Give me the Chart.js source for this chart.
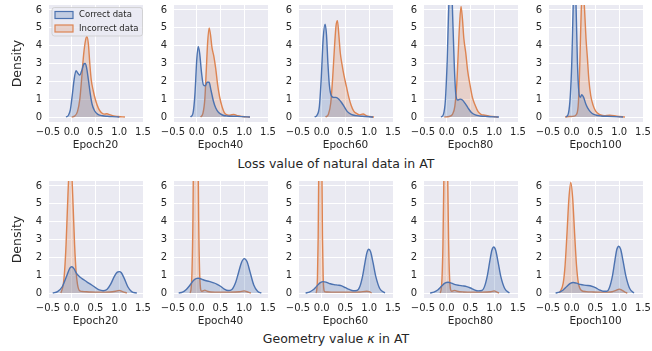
<!DOCTYPE html>
<html>
<head>
<meta charset="utf-8">
<script src="https://cdn.jsdelivr.net/npm/chart.js@4.4.0/dist/chart.umd.min.js"></script>
<style>
  body { margin: 0; background: #fff; font-family: 'DejaVu Sans', sans-serif; }
  #fig { position: relative; width: 652px; height: 351px; overflow: hidden; }
  #fig canvas { position: absolute; }
  .row-title { position: absolute; font-size: 12.5px; color: #262626; transform: translate(-50%, -50%); white-space: nowrap; }
</style>
</head>
<body>
<div id="fig">
  <div class="row-title" style="left:336px; top:163px">Loss value of natural data in AT</div>
  <div class="row-title" style="left:336px; top:338px">Geometry value <i>κ</i> in AT</div>
</div>
<script>
const epochs = ['Epoch20', 'Epoch40', 'Epoch60', 'Epoch80', 'Epoch100'];
const seriesNames = ['Correct data', 'Incorrect data'];
const xTicks = [-0.5, 0, 0.5, 1, 1.5];
const yTicks = [0, 1, 2, 3, 4, 5, 6];

// KDE of the natural-data loss, one list per epoch
const lossCorrectX = [
  [-0.12, -0.07, -0.03, 0.01, 0.05, 0.09, 0.13, 0.17, 0.21, 0.25, 0.28, 0.31, 0.35, 0.39, 0.43, 0.48, 0.55, 0.65, 0.75, 0.85, 1.0],
  [-0.13, -0.08, -0.04, 0.0, 0.03, 0.06, 0.1, 0.14, 0.18, 0.22, 0.26, 0.3, 0.35, 0.4, 0.46, 0.55, 0.65, 0.8, 0.95, 1.12],
  [-0.15, -0.1, -0.05, -0.01, 0.03, 0.07, 0.1, 0.13, 0.16, 0.2, 0.25, 0.3, 0.36, 0.42, 0.48, 0.54, 0.62, 0.72, 0.85, 1.08],
  [-0.12, -0.07, -0.03, 0.01, 0.04, 0.07, 0.1, 0.13, 0.16, 0.19, 0.23, 0.28, 0.33, 0.39, 0.45, 0.52, 0.6, 0.7, 0.85, 1.1],
  [-0.12, -0.07, -0.03, 0.0, 0.03, 0.06, 0.09, 0.12, 0.15, 0.18, 0.21, 0.25, 0.3, 0.36, 0.43, 0.52, 0.62, 0.75, 0.9, 1.08]
];
const lossCorrectY = [
  [0, 0.1, 0.4, 1.2, 2.1, 2.6, 2.45, 2.35, 2.6, 2.95, 3.0, 2.8, 2.1, 1.3, 0.7, 0.35, 0.15, 0.07, 0.04, 0.02, 0],
  [0, 0.2, 1.2, 3.2, 3.95, 3.6, 2.5, 1.8, 1.75, 1.95, 1.95, 1.5, 0.9, 0.5, 0.25, 0.1, 0.06, 0.04, 0.02, 0],
  [0, 0.1, 0.6, 2.2, 4.4, 5.2, 4.6, 3.0, 1.8, 1.2, 1.1, 1.1, 1.0, 0.8, 0.55, 0.3, 0.15, 0.08, 0.04, 0],
  [0, 0.15, 0.9, 3.2, 6.0, 7.6, 7.4, 5.2, 2.8, 1.3, 0.95, 1.0, 0.95, 0.75, 0.5, 0.25, 0.12, 0.06, 0.03, 0],
  [0, 0.2, 1.2, 3.0, 6.2, 8.0, 6.3, 3.0, 1.4, 1.1, 1.25, 1.1, 0.7, 0.4, 0.2, 0.1, 0.06, 0.04, 0.02, 0]
];
const lossIncorrectX = [
  [0.0, 0.06, 0.12, 0.17, 0.21, 0.25, 0.29, 0.32, 0.35, 0.38, 0.41, 0.45, 0.5, 0.56, 0.62, 0.68, 0.74, 0.8, 0.88, 0.98, 1.12],
  [0.08, 0.13, 0.17, 0.2, 0.23, 0.26, 0.29, 0.32, 0.36, 0.4, 0.44, 0.48, 0.53, 0.58, 0.64, 0.7, 0.78, 0.86, 0.96, 1.12],
  [0.08, 0.14, 0.19, 0.23, 0.27, 0.3, 0.33, 0.36, 0.39, 0.43, 0.47, 0.52, 0.57, 0.62, 0.67, 0.73, 0.8, 0.87, 0.95, 1.1],
  [-0.05, 0.05, 0.12, 0.17, 0.21, 0.24, 0.27, 0.3, 0.33, 0.36, 0.4, 0.44, 0.49, 0.54, 0.6, 0.66, 0.72, 0.8, 0.9, 1.08],
  [-0.14, -0.05, 0.05, 0.1, 0.14, 0.17, 0.2, 0.235, 0.27, 0.3, 0.33, 0.36, 0.4, 0.45, 0.5, 0.58, 0.68, 0.8, 0.95, 1.12]
];
const lossIncorrectY = [
  [0, 0.05, 0.3, 1.0, 2.2, 3.5, 4.3, 4.5, 4.1, 3.0, 2.1, 1.5, 0.95, 0.5, 0.25, 0.16, 0.18, 0.13, 0.06, 0.03, 0],
  [0, 0.2, 1.0, 2.6, 4.2, 5.0, 4.6, 3.9, 3.4, 2.7, 1.8, 1.15, 0.6, 0.25, 0.12, 0.1, 0.15, 0.07, 0.03, 0],
  [0, 0.15, 0.8, 2.2, 4.0, 5.1, 5.4, 4.6, 3.6, 2.9, 2.3, 1.7, 1.1, 0.65, 0.35, 0.2, 0.12, 0.17, 0.06, 0],
  [0, 0.03, 0.15, 0.6, 1.8, 3.5, 5.2, 6.2, 5.5, 4.4, 3.6, 2.6, 1.8, 1.1, 0.65, 0.3, 0.15, 0.1, 0.05, 0],
  [0, 0.03, 0.05, 0.15, 0.8, 3.0, 6.0, 7.2, 6.0, 4.4, 3.3, 2.1, 1.2, 0.65, 0.35, 0.15, 0.08, 0.1, 0.04, 0]
];

// KDE of the geometry value kappa
const geoCorrectX = [
  [-0.4, -0.3, -0.2, -0.1, -0.04, 0.0, 0.05, 0.1, 0.17, 0.25, 0.33, 0.42, 0.5, 0.58, 0.66, 0.74, 0.82, 0.9, 0.96, 1.0, 1.04, 1.1, 1.18, 1.26, 1.37],
  [-0.38, -0.3, -0.22, -0.14, -0.07, 0.0, 0.04, 0.1, 0.18, 0.26, 0.34, 0.42, 0.5, 0.58, 0.66, 0.74, 0.82, 0.88, 0.94, 1.0, 1.06, 1.12, 1.2, 1.28, 1.36],
  [-0.34, -0.26, -0.18, -0.1, -0.03, 0.03, 0.1, 0.18, 0.26, 0.34, 0.42, 0.5, 0.58, 0.66, 0.74, 0.8, 0.86, 0.91, 0.95, 0.99, 1.03, 1.08, 1.14, 1.22, 1.33],
  [-0.35, -0.27, -0.19, -0.11, -0.04, 0.03, 0.1, 0.18, 0.26, 0.34, 0.42, 0.5, 0.58, 0.66, 0.74, 0.8, 0.86, 0.91, 0.95, 0.99, 1.03, 1.08, 1.14, 1.22, 1.32],
  [-0.34, -0.26, -0.18, -0.1, -0.03, 0.03, 0.1, 0.18, 0.26, 0.34, 0.42, 0.5, 0.58, 0.66, 0.74, 0.8, 0.86, 0.91, 0.95, 0.99, 1.03, 1.08, 1.14, 1.22, 1.31]
];
const geoCorrectY = [
  [0, 0.08, 0.35, 1.0, 1.4, 1.47, 1.35, 1.1, 0.9, 0.75, 0.6, 0.45, 0.3, 0.17, 0.13, 0.2, 0.5, 0.95, 1.17, 1.2, 1.15, 0.85, 0.35, 0.08, 0],
  [0, 0.05, 0.2, 0.45, 0.7, 0.82, 0.83, 0.78, 0.7, 0.65, 0.58, 0.5, 0.38, 0.22, 0.14, 0.2, 0.6, 1.15, 1.7, 1.93, 1.75, 1.2, 0.45, 0.1, 0],
  [0, 0.05, 0.18, 0.4, 0.58, 0.64, 0.6, 0.52, 0.47, 0.44, 0.4, 0.3, 0.2, 0.13, 0.14, 0.35, 0.95, 1.7, 2.25, 2.45, 2.3, 1.7, 0.9, 0.25, 0],
  [0, 0.05, 0.17, 0.38, 0.55, 0.6, 0.55, 0.47, 0.43, 0.4, 0.36, 0.28, 0.18, 0.12, 0.14, 0.4, 1.05, 1.85, 2.4, 2.58, 2.4, 1.75, 0.9, 0.25, 0],
  [0, 0.05, 0.17, 0.38, 0.54, 0.59, 0.55, 0.48, 0.44, 0.42, 0.38, 0.3, 0.18, 0.1, 0.1, 0.35, 1.0, 1.85, 2.45, 2.62, 2.45, 1.8, 0.95, 0.25, 0]
];
const geoIncorrectX = [
  [-0.23, -0.18, -0.15, -0.12, -0.09, -0.06, -0.03, 0.0, 0.03, 0.06, 0.09, 0.12, 0.17, 0.25, 0.4, 0.6, 0.8, 0.92, 1.0, 1.07, 1.16],
  [-0.14, -0.12, -0.1, -0.08, -0.06, -0.04, -0.02, 0.0, 0.02, 0.04, 0.06, 0.08, 0.1, 0.13, 0.17, 0.22, 0.3, 0.5, 0.7, 0.9, 1.0, 1.06, 1.14],
  [-0.12, -0.105, -0.09, -0.075, -0.06, -0.045, -0.03, -0.015, 0.0, 0.015, 0.03, 0.045, 0.06, 0.1, 0.2, 0.4, 0.6, 0.8, 0.95, 1.0, 1.05],
  [-0.14, -0.12, -0.1, -0.08, -0.06, -0.04, -0.02, 0.0, 0.02, 0.04, 0.06, 0.08, 0.1, 0.13, 0.17, 0.22, 0.35, 0.55, 0.75, 0.92, 1.0, 1.05, 1.1],
  [-0.26, -0.18, -0.14, -0.1, -0.06, -0.02, 0.02, 0.06, 0.1, 0.14, 0.2, 0.3, 0.45, 0.6, 0.75, 0.85, 0.93, 1.0, 1.06, 1.12, 1.17]
];
const geoIncorrectY = [
  [0, 0.45, 1.25, 2.7, 4.8, 6.7, 7.5, 6.7, 4.8, 2.7, 1.25, 0.5, 0.12, 0.08, 0.06, 0.05, 0.06, 0.1, 0.15, 0.08, 0],
  [0, 0.22, 1.2, 4.2, 10.6, 18.3, 22, 18.3, 10.6, 4.2, 1.2, 0.25, 0.1, 0.12, 0.16, 0.1, 0.06, 0.05, 0.05, 0.07, 0.12, 0.07, 0],
  [0, 0.18, 0.9, 3.2, 7.9, 13.6, 16.3, 13.6, 7.9, 3.2, 0.9, 0.2, 0.08, 0.06, 0.05, 0.05, 0.05, 0.06, 0.1, 0.08, 0],
  [0, 0.17, 0.82, 2.75, 6.6, 11.0, 13.1, 11.0, 6.6, 2.75, 0.82, 0.2, 0.1, 0.12, 0.15, 0.1, 0.06, 0.05, 0.05, 0.07, 0.12, 0.06, 0],
  [0, 0.55, 1.56, 3.35, 5.3, 6.2, 5.3, 3.35, 1.56, 0.55, 0.15, 0.08, 0.06, 0.05, 0.05, 0.07, 0.15, 0.22, 0.15, 0.05, 0]
];

const rows = [
  [lossCorrectX, lossCorrectY, lossIncorrectX, lossIncorrectY],
  [geoCorrectX, geoCorrectY, geoIncorrectX, geoIncorrectY]
];

// panel geometry (pixels)
const PANEL_LEFT = [48, 173, 298, 423, 548];
const ROW_TOP = [5, 181];
const PLOT_W = 95, PLOT_H = 117;
const PAD_TOP = 5, PAD_RIGHT = 13, X_AXIS_H = 30;

const LINE = ['#4c72b0', '#dd8452'];
const FILL = ['rgba(76,114,176,0.25)', 'rgba(221,132,82,0.25)'];
const TEXT = '#262626';

Chart.defaults.font.family = "'DejaVu Sans', sans-serif";
Chart.defaults.color = TEXT;

const plotBackground = {
  id: 'plotBackground',
  beforeDraw(chart) {
    const { ctx, chartArea: a } = chart;
    ctx.save();
    ctx.fillStyle = '#eaeaf2';
    ctx.fillRect(a.left, a.top, a.width, a.height);
    ctx.restore();
  }
};

// legend box drawn inside the first panel
const innerLegend = {
  id: 'innerLegend',
  afterDraw(chart) {
    const { ctx, chartArea: a } = chart;
    const x = a.left + 4, y = a.top + 2.5, w = a.right - 0.5 - x, h = 28.5;
    ctx.save();
    ctx.beginPath();
    ctx.roundRect(x, y, w, h, 2.5);
    ctx.fillStyle = 'rgba(234,234,242,0.8)';
    ctx.fill();
    ctx.strokeStyle = 'rgba(204,204,204,0.8)';
    ctx.lineWidth = 1;
    ctx.stroke();
    ctx.font = "8.5px 'DejaVu Sans'";
    ctx.textBaseline = 'middle';
    seriesNames.forEach((name, i) => {
      const cy = a.top + 10 + i * 13.5;
      ctx.fillStyle = FILL[i];
      ctx.fillRect(a.left + 7, cy - 3.5, 18, 7);
      ctx.strokeStyle = LINE[i];
      ctx.lineWidth = 1.2;
      ctx.strokeRect(a.left + 7, cy - 3.5, 18, 7);
      ctx.fillStyle = TEXT;
      ctx.fillText(name, a.left + 31, cy);
    });
    ctx.restore();
  }
};

function toPoints(xs, ys) {
  return xs.map((x, i) => ({ x: x, y: ys[i] }));
}

function fmtTick(v) {
  return (v < 0 ? '\u2212' : '') + Math.abs(v).toFixed(1);
}

function build_panel(r, c) {
  const [cx, cy, ix, iy] = rows[r];
  const yAxisW = c === 0 ? 48 : 24;
  const canvas = document.createElement('canvas');
  canvas.width = yAxisW + PLOT_W + PAD_RIGHT;
  canvas.height = PAD_TOP + PLOT_H + X_AXIS_H;
  canvas.style.left = (PANEL_LEFT[c] - yAxisW) + 'px';
  canvas.style.top = (ROW_TOP[r] - PAD_TOP) + 'px';
  document.getElementById('fig').appendChild(canvas);

  const plugins = [plotBackground];
  if (r === 0 && c === 0) plugins.push(innerLegend);

  const datasets = [[cx, cy], [ix, iy]].map(([xs, ys], i) => ({
    label: seriesNames[i],
    data: toPoints(xs[c], ys[c]),
    borderColor: LINE[i],
    backgroundColor: FILL[i],
    borderWidth: 1.4,
    pointRadius: 0,
    fill: 'origin',
    cubicInterpolationMode: 'monotone'
  }));

  return new Chart(canvas, {
    type: 'line',
    data: { datasets },
    plugins,
    options: {
      responsive: false,
      animation: false,
      events: [],
      layout: { padding: { top: PAD_TOP, right: PAD_RIGHT, bottom: 0, left: 0 } },
      plugins: { legend: { display: false }, tooltip: { enabled: false } },
      scales: {
        x: {
          type: 'linear',
          min: -0.5,
          max: 1.5,
          border: { display: false },
          grid: { color: '#ffffff', lineWidth: 1, drawTicks: false },
          ticks: { padding: 4, font: { size: 10 }, maxRotation: 0, autoSkip: false, callback: fmtTick },
          title: { display: true, text: epochs[c], font: { size: 10.5 }, padding: 0 },
          afterBuildTicks: s => { s.ticks = xTicks.map(v => ({ value: v })); },
          afterFit: s => { s.height = X_AXIS_H; s.paddingLeft = 0; s.paddingRight = 0; }
        },
        y: {
          type: 'linear',
          min: -0.28,
          max: 6.28,
          border: { display: false },
          grid: { color: '#ffffff', lineWidth: 1, drawTicks: false },
          ticks: { padding: 6, font: { size: 10 } },
          title: { display: c === 0, text: 'Density', font: { size: 12.5 }, padding: { top: 10, bottom: 0 } },
          afterBuildTicks: s => { s.ticks = yTicks.map(v => ({ value: v })); },
          afterFit: s => { s.width = yAxisW; s.paddingTop = 0; s.paddingBottom = 0; }
        }
      }
    }
  });
}

for (let r = 0; r < 2; r++) {
  for (let c = 0; c < epochs.length; c++) build_panel(r, c);
}
</script>
</body>
</html>
